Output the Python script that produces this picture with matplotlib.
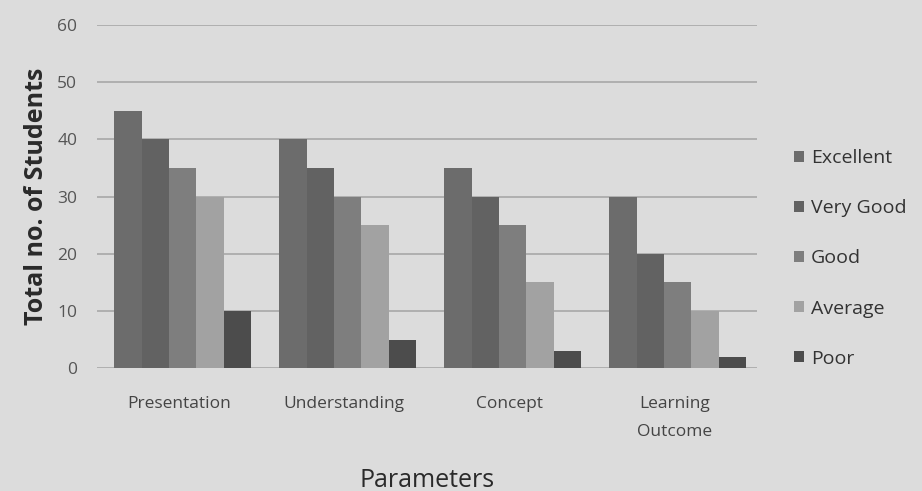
import matplotlib
matplotlib.use("Agg")
import matplotlib.pyplot as plt
import numpy as np

categories = ["Presentation", "Understanding", "Concept", "Learning\nOutcome"]
series_names = ["Excellent", "Very Good", "Good", "Average", "Poor"]
excellent = [45, 40, 35, 30]
very_good = [40, 35, 30, 20]
good = [35, 30, 25, 15]
average = [30, 25, 15, 10]
poor = [10, 5, 3, 2]
yticks = [0, 10, 20, 30, 40, 50, 60]

series = [excellent, very_good, good, average, poor]
colors = ["#6c6c6c", "#626262", "#7e7e7e", "#a2a2a2", "#4c4c4c"]

plt.rcParams['font.family'] = ['Open Sans', 'DejaVu Sans']
bg = "#dcdcdc"
fig = plt.figure(figsize=(9.22, 4.91), dpi=100, facecolor=bg)
ax = fig.add_axes([0.105, 0.250, 0.716, 0.699], facecolor=bg)

x = np.arange(len(categories))
w = 0.166
for i, (vals, c, name) in enumerate(zip(series, colors, series_names)):
    ax.bar(x + (i - 2) * w + 0.02, vals, width=w, color=c, label=name, zorder=3, linewidth=0)

ax.set_xlim(-0.5, len(categories) - 0.5)
ax.set_ylim(0, 60)
ax.set_yticks(yticks)
ax.grid(axis='y', color='#a8a8a8', linewidth=1.2, zorder=0)
for s in ax.spines.values():
    s.set_visible(False)
ax.tick_params(axis='both', length=0, colors='#555555', labelsize=12.5)
ax.tick_params(axis='y', pad=14)
ax.tick_params(axis='x', pad=20)
ax.set_xticks(x)
ax.set_xticklabels(categories, color='#444444', linespacing=2.0)
ax.set_ylabel("Total no. of Students", fontsize=18, fontweight='bold', color='#2a2a2a', labelpad=6)
ax.set_xlabel("Parameters", fontsize=18, color='#2a2a2a', labelpad=20)

leg = ax.legend(loc='center left', bbox_to_anchor=(1.03, 0.32), frameon=False,
                fontsize=14, labelspacing=1.65, handlelength=0.5, handleheight=0.5,
                handletextpad=0.35, labelcolor='#333333')

fig.savefig("out.png", dpi=100, facecolor=bg)
